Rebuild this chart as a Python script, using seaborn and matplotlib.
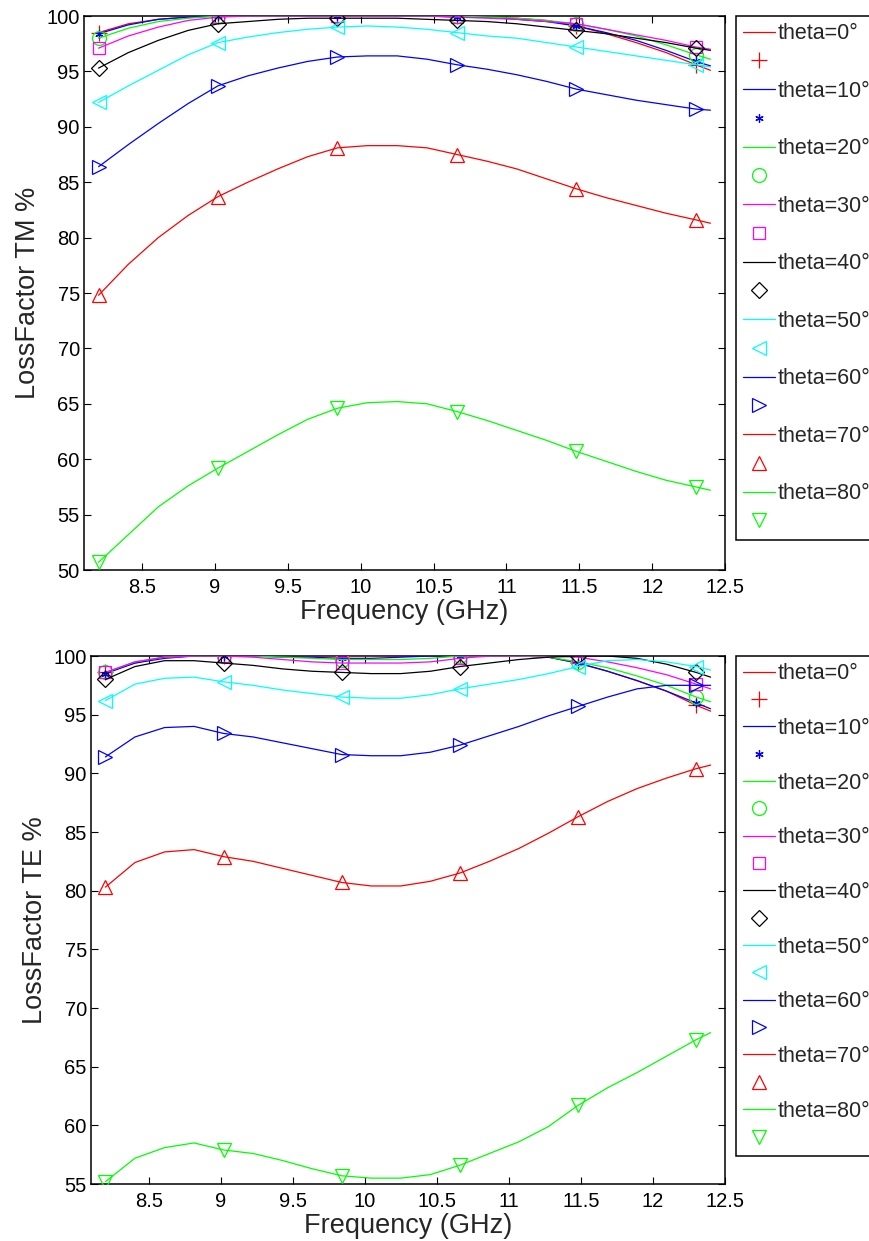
import numpy as np
import pandas as pd
import seaborn as sns
import matplotlib
matplotlib.use("Agg")
import matplotlib.pyplot as plt
from matplotlib.lines import Line2D

# ---------------- data ----------------
freq = [8.200, 8.405, 8.610, 8.815, 9.020, 9.225, 9.430, 9.635, 9.840, 10.045, 10.250,
        10.455, 10.660, 10.865, 11.070, 11.275, 11.480, 11.685, 11.890, 12.095, 12.300, 12.400]
marker_idx = [0, 4, 8, 12, 16, 20]

thetas = [0, 10, 20, 30, 40, 50, 60, 70, 80]
labels = ["theta=0°", "theta=10°", "theta=20°", "theta=30°", "theta=40°",
          "theta=50°", "theta=60°", "theta=70°", "theta=80°"]

tm_0 = [98.5, 99.3, 99.7, 99.9, 100.0, 100.0, 100.0, 100.0, 100.0, 100.0, 100.0, 100.0, 100.0, 99.9, 99.8, 99.6, 99.1, 98.4, 97.6, 96.7, 95.6, 95.1]
tm_10 = [98.4, 99.2, 99.7, 99.9, 100.0, 100.0, 100.0, 100.0, 100.0, 100.0, 100.0, 100.0, 99.9, 99.9, 99.7, 99.5, 99.1, 98.5, 97.8, 96.9, 95.9, 95.5]
tm_20 = [98.0, 98.9, 99.5, 99.8, 100.0, 100.0, 100.0, 100.0, 100.0, 100.0, 100.0, 100.0, 100.0, 99.9, 99.8, 99.6, 99.3, 98.8, 98.2, 97.4, 96.5, 96.1]
tm_30 = [97.1, 98.2, 99.0, 99.6, 99.9, 100.0, 100.0, 100.0, 100.0, 100.0, 100.0, 100.0, 99.9, 99.8, 99.7, 99.5, 99.3, 98.8, 98.3, 97.8, 97.2, 97.0]
tm_40 = [95.3, 96.7, 97.8, 98.7, 99.3, 99.5, 99.7, 99.8, 99.8, 99.8, 99.8, 99.7, 99.6, 99.5, 99.3, 99.0, 98.7, 98.4, 98.0, 97.6, 97.1, 96.9]
tm_50 = [92.2, 93.7, 95.1, 96.5, 97.6, 98.1, 98.5, 98.8, 99.0, 99.1, 99.0, 98.8, 98.5, 98.2, 98.0, 97.6, 97.2, 96.8, 96.4, 96.0, 95.6, 95.4]
tm_60 = [86.4, 88.4, 90.3, 92.1, 93.7, 94.6, 95.3, 95.9, 96.3, 96.4, 96.4, 96.1, 95.6, 95.2, 94.7, 94.1, 93.4, 92.9, 92.4, 92.0, 91.6, 91.5]
tm_70 = [74.8, 77.6, 80.0, 82.0, 83.7, 85.0, 86.2, 87.3, 88.1, 88.3, 88.3, 88.1, 87.5, 86.9, 86.2, 85.3, 84.4, 83.6, 82.9, 82.2, 81.6, 81.3]
tm_80 = [50.7, 53.2, 55.7, 57.6, 59.2, 60.7, 62.2, 63.6, 64.6, 65.1, 65.2, 65.0, 64.3, 63.5, 62.6, 61.7, 60.7, 59.8, 58.9, 58.1, 57.5, 57.2]

te_0 = [98.6, 99.4, 99.9, 100.0, 100.0, 100.0, 100.0, 100.0, 100.0, 100.0, 100.0, 100.0, 100.0, 100.0, 100.0, 99.9, 99.4, 98.7, 97.9, 97.0, 95.8, 95.3]
te_10 = [98.5, 99.4, 99.8, 100.0, 100.0, 100.0, 99.9, 99.9, 99.8, 99.8, 99.9, 100.0, 100.0, 100.0, 100.0, 99.9, 99.4, 98.7, 97.9, 97.0, 96.0, 95.5]
te_20 = [98.6, 99.5, 99.9, 100.0, 100.0, 100.0, 99.9, 99.8, 99.7, 99.7, 99.7, 99.8, 100.0, 100.0, 100.0, 99.9, 99.5, 99.0, 98.3, 97.5, 96.5, 96.1]
te_30 = [98.6, 99.5, 99.9, 100.0, 100.0, 99.9, 99.7, 99.5, 99.4, 99.4, 99.4, 99.5, 99.8, 100.0, 100.0, 100.0, 99.9, 99.5, 99.0, 98.4, 97.6, 97.2]
te_40 = [98.0, 99.1, 99.6, 99.6, 99.4, 99.2, 98.9, 98.7, 98.6, 98.5, 98.5, 98.7, 99.1, 99.4, 99.7, 99.9, 100.0, 100.0, 99.8, 99.3, 98.6, 98.2]
te_50 = [96.2, 97.6, 98.1, 98.2, 97.8, 97.5, 97.1, 96.8, 96.5, 96.4, 96.4, 96.7, 97.2, 97.6, 98.0, 98.5, 99.1, 99.6, 99.7, 99.5, 99.1, 98.8]
te_60 = [91.4, 93.1, 93.9, 94.0, 93.4, 93.1, 92.6, 92.1, 91.6, 91.5, 91.5, 91.8, 92.4, 93.2, 94.0, 94.9, 95.7, 96.5, 97.2, 97.5, 97.5, 97.5]
te_70 = [80.3, 82.4, 83.3, 83.5, 82.9, 82.5, 81.9, 81.3, 80.7, 80.4, 80.4, 80.8, 81.5, 82.5, 83.6, 84.9, 86.3, 87.6, 88.7, 89.6, 90.4, 90.7]
te_80 = [55.2, 57.2, 58.1, 58.5, 57.9, 57.6, 57.0, 56.3, 55.7, 55.5, 55.5, 55.8, 56.6, 57.6, 58.6, 59.9, 61.7, 63.2, 64.5, 65.9, 67.3, 67.9]

tm_series = [tm_0, tm_10, tm_20, tm_30, tm_40, tm_50, tm_60, tm_70, tm_80]
te_series = [te_0, te_10, te_20, te_30, te_40, te_50, te_60, te_70, te_80]

xticks = [8.5, 9, 9.5, 10, 10.5, 11, 11.5, 12, 12.5]
xticklabels = ["8.5", "9", "9.5", "10", "10.5", "11", "11.5", "12", "12.5"]
tm_yticks = [50, 55, 60, 65, 70, 75, 80, 85, 90, 95, 100]
te_yticks = [55, 60, 65, 70, 75, 80, 85, 90, 95, 100]

# ---------------- styles ----------------
colors = ["#ff0000", "#0000ff", "#00ff00", "#ff00ff", "#000000",
          "#00ffff", "#0000ff", "#ff0000", "#00ff00"]
markers = ["+", (6, 2, 0), "o", "s", "D", "<", ">", "^", "v"]
msizes = [11, 6, 10, 9, 8, 10, 10, 10, 10]

sns.set_style("ticks")
plt.rcParams["font.family"] = ["Liberation Sans", "DejaVu Sans"]

W, H = 870, 1241
fig = plt.figure(figsize=(W / 100, H / 100), dpi=100)

ax_tm = fig.add_axes([84 / W, 1 - 570 / H, 641 / W, 554 / H])
ax_te = fig.add_axes([91 / W, 1 - 1184 / H, 634 / W, 528 / H])

LEG_FS = 15.5


def draw(ax, series, yticks, ylabel, leg_top, leg_spacing):
    for i, vals in enumerate(series):
        df = pd.DataFrame({"freq": freq, "val": vals})
        sns.lineplot(data=df, x="freq", y="val", ax=ax, color=colors[i],
                     linewidth=0.9, marker=markers[i], markevery=marker_idx,
                     markersize=msizes[i], markeredgecolor=colors[i],
                     markerfacecolor="none", markeredgewidth=0.9,
                     legend=False, zorder=3 + i * 0.01)
    ax.set_xlim(8.1, 12.5)
    ax.set_ylim(yticks[0], yticks[-1])
    ax.set_xticks(xticks)
    ax.set_xticklabels(xticklabels)
    ax.set_yticks(yticks)
    ax.set_yticklabels([str(t) for t in yticks])
    ax.tick_params(direction="in", top=True, right=True, length=5, width=0.8,
                   labelsize=14.5, pad=3, colors="black")
    ax.tick_params(axis="x", pad=6)
    for sp in ax.spines.values():
        sp.set_visible(True)
        sp.set_linewidth(1.1)
        sp.set_color("black")
    ax.set_xlabel("Frequency (GHz)", fontsize=19.5, labelpad=1)
    ax.set_ylabel(ylabel, fontsize=19.5, labelpad=4)
    ax.grid(False)

    handles, labs = [], []
    for i in range(len(series)):
        handles.append(Line2D([], [], color=colors[i], linewidth=0.9))
        labs.append(labels[i])
        handles.append(Line2D([], [], color=colors[i], linestyle="none",
                              marker=markers[i], markersize=msizes[i],
                              markeredgecolor=colors[i], markerfacecolor="none",
                              markeredgewidth=0.9))
        labs.append("")
    leg = ax.legend(handles, labs, loc="upper left",
                    bbox_to_anchor=(736 / W, 1 - leg_top / H),
                    bbox_transform=fig.transFigure, borderaxespad=0,
                    fontsize=LEG_FS, frameon=True, fancybox=False, shadow=False,
                    framealpha=1, edgecolor="black", handlelength=1.5,
                    handletextpad=0.1, labelspacing=leg_spacing, borderpad=0.33,
                    numpoints=1)
    leg.get_frame().set_linewidth(1.1)


draw(ax_tm, tm_series, tm_yticks, "LossFactor TM %", 16, 0.36)
draw(ax_te, te_series, te_yticks, "LossFactor TE %", 656, 0.295)

fig.savefig("out.png", dpi=100, facecolor="white")
